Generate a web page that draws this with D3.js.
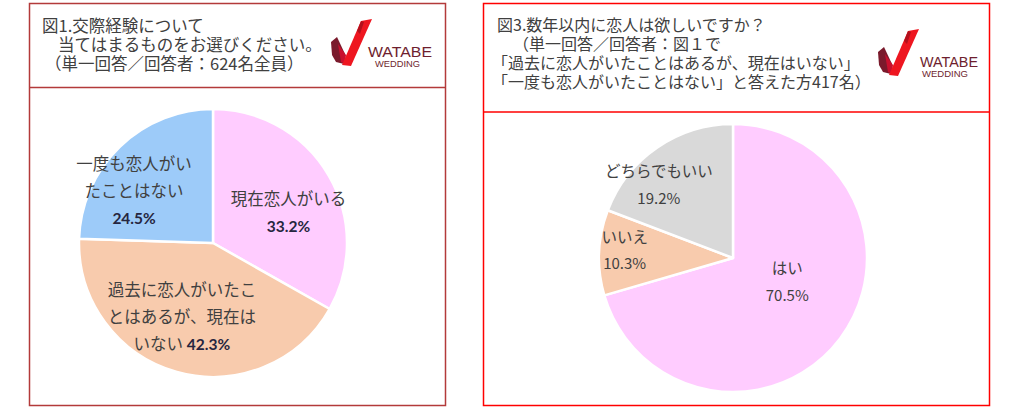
<!DOCTYPE html>
<html><head><meta charset="utf-8">
<script src="https://cdn.jsdelivr.net/npm/d3@7"></script>
<style>
html,body{margin:0;padding:0;background:#fff;}
svg{display:block;}
</style></head>
<body>
<svg id="chart" width="1015" height="410"></svg>
<script>
// ---- data ----
const fig1Title = ["図1.交際経験について", "当てはまるものをお選びください。", "（単一回答／回答者：624名全員）"];
const fig1Categories = ["現在恋人がいる", "過去に恋人がいたことはあるが、現在はいない", "一度も恋人がいたことはない"];
const fig1Values = [33.2, 42.3, 24.5];
const fig1LabelLines = [["現在恋人がいる"], ["過去に恋人がいたこ", "とはあるが、現在は", "いない"], ["一度も恋人がい", "たことはない"]];
const fig1PctInline = [false, true, false];

const fig3Title = ["図3.数年以内に恋人は欲しいですか？", "（単一回答／回答者：図１で", "「過去に恋人がいたことはあるが、現在はいない」", "「一度も恋人がいたことはない」と答えた方417名）"];
const fig3Categories = ["はい", "いいえ", "どちらでもいい"];
const fig3Values = [70.5, 10.3, 19.2];
const fig3LabelLines = [["はい"], ["いいえ"], ["どちらでもいい"]];
const fig3PctInline = [false, false, false];

// ---- styles / layout ----
const fig1Colors = ["#FFCCFF", "#F8CBAD", "#9DCBF9"];
const fig3Colors = ["#FFCCFF", "#F8CBAD", "#D9D9D9"];
const fig1Nudges = [[6, 10.5], [-9.4, -3.5], [-23, 5.5]];
const fig3Nudges = [[-10, -24.5], [-28, -4.3], [-28.6, -7.1]];

const svg = d3.select("#chart");
const JP = "'Noto Sans CJK JP','Noto Sans',sans-serif";

// panels
function panel(x0, y0, x1, y1, yDiv, color, w) {
  svg.append("rect").attr("x", x0).attr("y", y0).attr("width", x1 - x0).attr("height", y1 - y0)
    .attr("fill", "none").attr("stroke", color).attr("stroke-width", w);
  svg.append("line").attr("x1", x0).attr("x2", x1).attr("y1", yDiv).attr("y2", yDiv)
    .attr("stroke", color).attr("stroke-width", w);
}
panel(29.5, 3.5, 445.5, 405.5, 87.5, "#B33A3A", 1.5);
panel(483.5, 3.5, 989.5, 405.5, 112, "#FF0000", 1.5);

// titles
function title(lines, xs, y0, dy, size) {
  const t = svg.append("g");
  lines.forEach((s, i) => {
    t.append("text").attr("x", xs[i]).attr("y", y0 + i * dy)
      .attr("font-family", JP).attr("font-size", size).attr("fill", "#404040").text(s);
  });
}
title(fig1Title, [42, 58, 45], 31.5, 19, 16.5);
title(fig3Title, [497, 513, 492, 492], 30.5, 19, 16);

// logo
function logo(ox, oy, wx, ww, wdx, wdw) {
  const g = svg.append("g").attr("transform", `translate(${ox},${oy})`);
  g.append("path").attr("d", "M1,24 L7,19 L15,36 L14,46 L6,44 L2,37 Z").attr("fill", "#7A1A2C");
  g.append("path").attr("d", "M8,26 L16,37 L15,46 L11,44 Z").attr("fill", "#C8102E");
  g.append("path").attr("d", "M12,47 L31,3 L42,1 L21,48 Z").attr("fill", "#EE1620");
  g.append("path").attr("d", "M27,13 L31,3 L34,4 L30,16 Z").attr("fill", "#B3101C");
  g.append("text").attr("x", wx).attr("y", 39).attr("font-family", "'Liberation Sans',sans-serif")
    .attr("font-size", 15).attr("fill", "#6E1E2E").attr("textLength", ww).attr("lengthAdjust", "spacingAndGlyphs").text("WATABE");
  g.append("text").attr("x", wdx).attr("y", 49).attr("font-family", "'Liberation Sans',sans-serif")
    .attr("font-size", 8.5).attr("fill", "#6E1E2E").attr("textLength", wdw).attr("lengthAdjust", "spacingAndGlyphs").text("WEDDING");
}
logo(330, 18, 38, 64, 45, 45);
logo(877, 28, 43, 58, 45, 46);

// pies
function pie(cx, cy, r, cats, vals, colors, lines, inline, nudges, opt) {
  const g = svg.append("g").attr("transform", `translate(${cx},${cy})`);
  const arcs = d3.pie().sort(null).value(d => d)(vals);
  const arc = d3.arc().innerRadius(0).outerRadius(r);
  g.selectAll("path.slice").data(arcs).join("path").attr("class", "slice")
    .attr("d", arc).attr("fill", (d, i) => colors[i])
    .attr("stroke", "#fff").attr("stroke-width", 2.5).attr("stroke-linejoin", "round");
  const labelArc = d3.arc().innerRadius(0).outerRadius(r * 1.2);
  arcs.forEach((a, i) => {
    const c = labelArc.centroid(a);
    const bx = c[0] + nudges[i][0], by = c[1] + nudges[i][1];
    const ls = lines[i].slice();
    const n = inline[i] ? ls.length : ls.length + 1;
    const y0 = by - (n - 1) * opt.ls / 2;
    const pct = d3.format(".1f")(vals[i]) + "%";
    ls.forEach((s, k) => {
      const t = g.append("text").attr("x", bx).attr("y", y0 + k * opt.ls + opt.size * 0.36)
        .attr("text-anchor", "middle").attr("font-family", JP).attr("font-size", opt.size).attr("fill", "#404040");
      t.append("tspan").text(s);
      if (inline[i] && k === ls.length - 1) {
        t.append("tspan").attr("font-family", opt.pctFont).attr("font-weight", opt.pctWeight)
          .attr("font-size", opt.pctSize).attr("fill", opt.pctColor).text(" " + pct);
      }
    });
    if (!inline[i]) {
      g.append("text").attr("x", bx).attr("y", y0 + ls.length * opt.ls + opt.size * 0.36)
        .attr("text-anchor", "middle").attr("font-family", opt.pctFont).attr("font-weight", opt.pctWeight)
        .attr("font-size", opt.pctSize).attr("fill", opt.pctColor).text(pct);
    }
  });
}
pie(213, 243, 134, fig1Categories, fig1Values, fig1Colors, fig1LabelLines, fig1PctInline, fig1Nudges,
  {size: 16.5, ls: 27, pctFont: "Lato,'Liberation Sans',sans-serif", pctWeight: "bold", pctSize: 15.5, pctColor: "#262640"});
pie(733, 258, 134, fig3Categories, fig3Values, fig3Colors, fig3LabelLines, fig3PctInline, fig3Nudges,
  {size: 15.5, ls: 26.5, pctFont: JP, pctWeight: "normal", pctSize: 15, pctColor: "#404040"});
</script>
</body></html>
